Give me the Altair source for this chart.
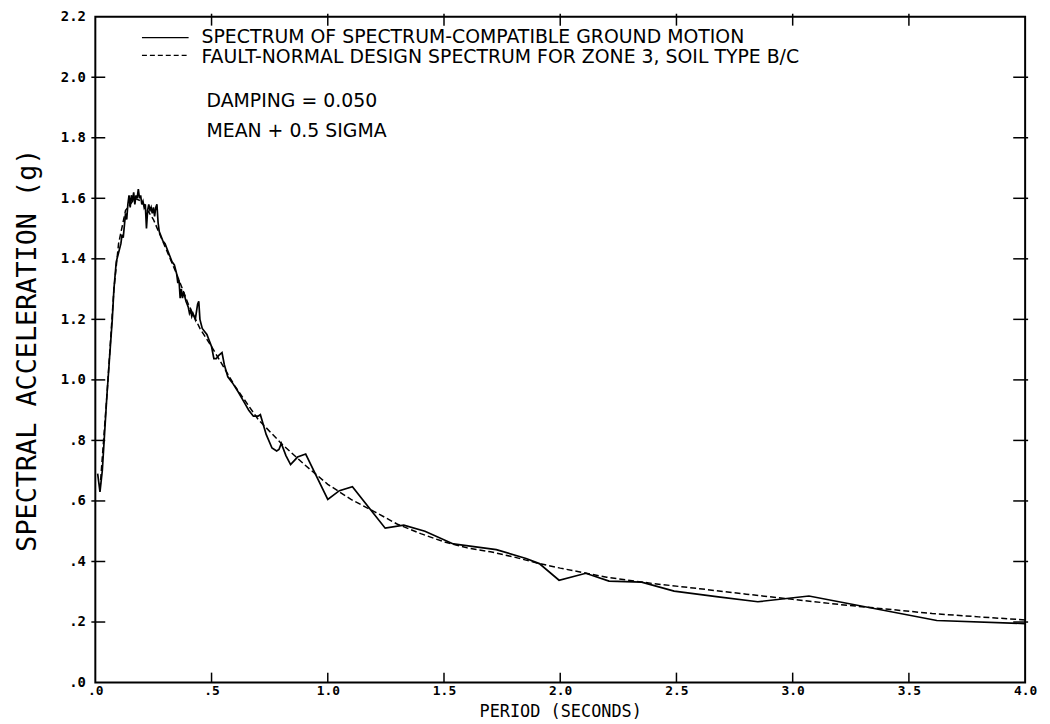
import altair as alt
import pandas as pd

# Spectrum of spectrum-compatible ground motion (solid)
solid_T = [0.01, 0.02, 0.03, 0.038, 0.05, 0.06, 0.073, 0.08, 0.09, 0.10, 0.11, 0.115, 0.12, 0.13, 0.135,
           0.14, 0.145, 0.15, 0.155, 0.16, 0.165, 0.17, 0.175, 0.18, 0.185, 0.19, 0.195, 0.20, 0.205,
           0.21, 0.215, 0.22, 0.225, 0.23, 0.235, 0.24, 0.245, 0.25, 0.255, 0.26, 0.265, 0.27, 0.275,
           0.28, 0.29, 0.30, 0.31, 0.32, 0.33, 0.34, 0.35, 0.355, 0.36, 0.365, 0.37, 0.375, 0.38, 0.39,
           0.40, 0.405, 0.41, 0.415, 0.42, 0.43, 0.44, 0.445, 0.45, 0.46, 0.47, 0.48, 0.49, 0.50, 0.51,
           0.52, 0.53, 0.545, 0.555, 0.57, 0.59, 0.615, 0.63, 0.645, 0.66, 0.68, 0.70, 0.71, 0.735, 0.76,
           0.78, 0.79, 0.80, 0.82, 0.84, 0.87, 0.905, 1.0, 1.05, 1.106, 1.247, 1.327, 1.418, 1.54, 1.725,
           1.853, 1.91, 1.995, 2.11, 2.21, 2.35, 2.49, 2.68, 2.85, 3.07, 3.62, 4.0]
solid_Sa = [0.69, 0.63, 0.70, 0.80, 0.95, 1.06, 1.20, 1.30, 1.39, 1.42, 1.45, 1.48, 1.47, 1.55, 1.53,
            1.58, 1.61, 1.57, 1.61, 1.59, 1.62, 1.58, 1.61, 1.60, 1.63, 1.60, 1.61, 1.58, 1.59,
            1.57, 1.58, 1.50, 1.56, 1.58, 1.56, 1.57, 1.55, 1.57, 1.54, 1.57, 1.58, 1.52, 1.49,
            1.48, 1.46, 1.45, 1.43, 1.41, 1.39, 1.38, 1.35, 1.32, 1.33, 1.27, 1.30, 1.27, 1.29, 1.26,
            1.24, 1.22, 1.23, 1.21, 1.22, 1.20, 1.25, 1.26, 1.20, 1.17, 1.16, 1.15, 1.13, 1.11, 1.07,
            1.07, 1.08, 1.09, 1.05, 1.01, 0.99, 0.96, 0.94, 0.92, 0.90, 0.88, 0.88, 0.885, 0.82, 0.775,
            0.765, 0.77, 0.79, 0.75, 0.72, 0.745, 0.755, 0.605, 0.634, 0.647, 0.51, 0.52, 0.50, 0.458, 0.439,
            0.41, 0.393, 0.338, 0.361, 0.335, 0.332, 0.302, 0.283, 0.267, 0.286, 0.205, 0.195]

# Fault-normal design spectrum (dashed)
design_T = [0.02, 0.05, 0.08, 0.10, 0.13, 0.17, 0.20, 0.25, 0.30, 0.35, 0.40, 0.45, 0.50, 0.60, 0.70,
            0.80, 0.90, 1.0, 1.1, 1.2, 1.3, 1.4, 1.5, 1.6, 1.7, 1.8, 1.9, 2.0, 2.2, 2.4, 2.6, 2.8,
            3.0, 3.2, 3.4, 3.6, 3.8, 4.0]
design_Sa = [0.64, 0.95, 1.30, 1.45, 1.56, 1.60, 1.59, 1.53, 1.44, 1.35, 1.25, 1.17, 1.11, 0.98, 0.87,
             0.79, 0.72, 0.655, 0.605, 0.565, 0.523, 0.492, 0.465, 0.445, 0.432, 0.415, 0.395, 0.378,
             0.348, 0.327, 0.31, 0.292, 0.275, 0.258, 0.243, 0.228, 0.217, 0.207]

x_ticks = [0.0, 0.5, 1.0, 1.5, 2.0, 2.5, 3.0, 3.5, 4.0]
y_ticks = [0.0, 0.2, 0.4, 0.6, 0.8, 1.0, 1.2, 1.4, 1.6, 1.8, 2.0, 2.2]

legend_labels = ["SPECTRUM OF SPECTRUM-COMPATIBLE GROUND MOTION",
                 "FAULT-NORMAL DESIGN SPECTRUM FOR ZONE 3, SOIL TYPE B/C"]
notes = ["DAMPING = 0.050", "MEAN + 0.5 SIGMA"]

W, H = 937, 671
FONT = "DejaVu Sans Mono"
TFONT = "DejaVu Sans"

solid_df = pd.DataFrame({"T": solid_T, "Sa": solid_Sa})
design_df = pd.DataFrame({"T": design_T, "Sa": design_Sa})
xt_df = pd.DataFrame({"T": x_ticks[1:-1]})
yt_df = pd.DataFrame({"Sa": y_ticks[1:-1]})

xscale = alt.Scale(domain=[0, 4], nice=False, zero=False)
yscale = alt.Scale(domain=[0, 2.2], nice=False, zero=False)

LABEL_EXPR = "datum.value < 1 ? substring(format(datum.value, '.1f'), 1) : format(datum.value, '.1f')"

x_axis = alt.Axis(values=x_ticks, title="PERIOD (SECONDS)", ticks=False, domain=False, grid=False,
                  labelExpr=LABEL_EXPR,
                  labelFont=FONT, labelFontSize=13, labelFontWeight="bold", labelColor="black", labelPadding=2,
                  labelFlush=False, labelOverlap=False,
                  titleFont=FONT, titleFontSize=17, titleFontWeight="normal", titleColor="black",
                  titleY=34, titleBaseline="alphabetic")
y_axis = alt.Axis(values=y_ticks, title="SPECTRAL ACCELERATION (g)", ticks=False, domain=False, grid=False,
                  labelExpr=LABEL_EXPR,
                  labelFont=FONT, labelFontSize=14, labelFontWeight="bold", labelColor="black", labelPadding=10,
                  labelFlush=False, labelOverlap=False,
                  titleFont=FONT, titleFontSize=27, titleFontWeight="normal", titleColor="black",
                  titleX=-68, titleY=H / 2, titleAngle=-90, titleAlign="center", titleBaseline="middle")

X = alt.X("T:Q", scale=xscale, axis=x_axis)
Y = alt.Y("Sa:Q", scale=yscale, axis=y_axis)

solid = alt.Chart(solid_df).mark_line(color="black", strokeWidth=1.7).encode(x=X, y=Y, order="T:Q")
design = alt.Chart(design_df).mark_line(color="black", strokeWidth=1.5, strokeDash=[6, 3]).encode(
    x=X, y=Y, order="T:Q")

tick_style = dict(color="black", strokeWidth=1.5)
left_ticks = alt.Chart(yt_df).mark_rule(**tick_style).encode(y=Y, x=alt.value(-4), x2=alt.value(10))
right_ticks = alt.Chart(yt_df).mark_rule(**tick_style).encode(y=Y, x=alt.value(W - 12), x2=alt.value(W + 3))
top_ticks = alt.Chart(xt_df).mark_rule(**tick_style).encode(x=X, y=alt.value(-3), y2=alt.value(9))
bottom_ticks = alt.Chart(xt_df).mark_rule(**tick_style).encode(x=X, y=alt.value(H - 10), y2=alt.value(H))

leg_solid = alt.Chart(pd.DataFrame({"k": [0]})).mark_rule(color="black", strokeWidth=1.3).encode(
    x=alt.value(47), x2=alt.value(94), y=alt.value(21))
leg_dash = alt.Chart(pd.DataFrame({"k": [0]})).mark_rule(color="black", strokeWidth=1.3, strokeDash=[5, 3]).encode(
    x=alt.value(47), x2=alt.value(94), y=alt.value(39))

text_style = dict(font=TFONT, fontSize=19, color="black", align="left", baseline="alphabetic")
leg_t1 = alt.Chart(pd.DataFrame({"t": [legend_labels[0]]})).mark_text(**text_style).encode(
    x=alt.value(107), y=alt.value(27), text="t:N")
leg_t2 = alt.Chart(pd.DataFrame({"t": [legend_labels[1]]})).mark_text(**text_style).encode(
    x=alt.value(107), y=alt.value(47), text="t:N")
note1 = alt.Chart(pd.DataFrame({"t": [notes[0]]})).mark_text(**text_style).encode(
    x=alt.value(112), y=alt.value(91), text="t:N")
note2 = alt.Chart(pd.DataFrame({"t": [notes[1]]})).mark_text(**text_style).encode(
    x=alt.value(112), y=alt.value(121), text="t:N")

chart = alt.layer(
    solid, design, left_ticks, right_ticks, top_ticks, bottom_ticks,
    leg_solid, leg_dash, leg_t1, leg_t2, note1, note2,
).properties(
    width=W, height=H, autosize="none",
    padding={"left": 88, "top": 6, "right": 17, "bottom": 39},
    background="white",
).configure_view(stroke="black", strokeWidth=2)

chart.save("out.html", embed_options={"renderer": "svg", "actions": False})
